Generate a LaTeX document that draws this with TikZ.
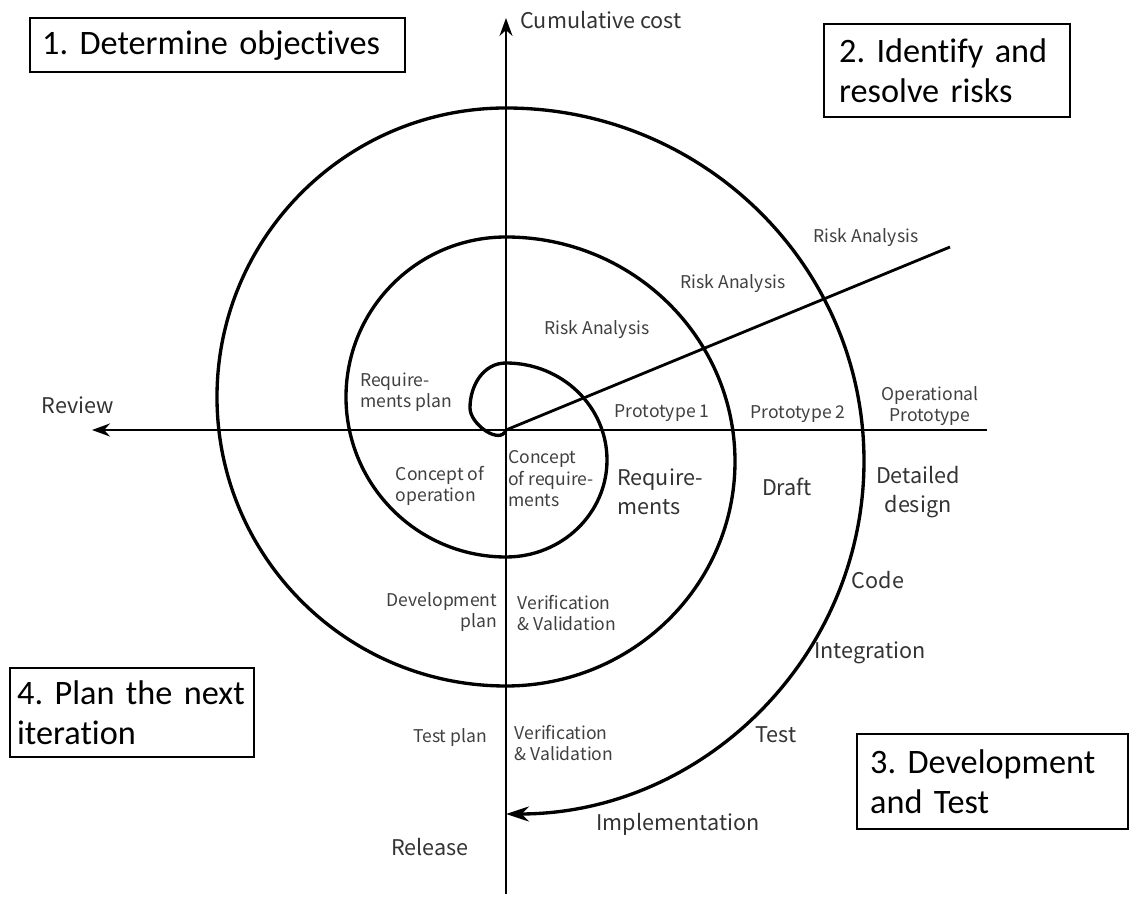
\documentclass[tikz,border=0pt]{standalone}
\usepackage{fontspec}
\setmainfont{Noto Sans CJK JP}
\newfontfamily\boxfont[Ligatures=NoCommon]{Carlito}
\usepackage{tikz}
\usetikzlibrary{arrows.meta}
\frenchspacing

\tikzset{
  axis/.style={line width=1.1pt,-{Stealth[length=0.36cm,width=0.26cm]}},
  spiral/.style={line width=1.9pt},
  small/.style={font=\fontsize{10}{12.2}\selectfont,text=black!75,inner sep=0pt},
  big/.style={font=\fontsize{12.3}{16.2}\selectfont,text=black!80,inner sep=0pt},
  phasebox/.style={draw,line width=1.3pt,anchor=north west,align=left,
    font=\boxfont\fontsize{19.5}{22.5}\selectfont}
}

\begin{document}
\begin{tikzpicture}[x=0.02cm,y=0.02cm]
\useasboundingbox (-506,-478) rectangle (633,430);
\coordinate (O) at (0,0);
\coordinate (R) at (444,183);
\coordinate (ax1) at (481,0);
\coordinate (ax2) at (-414,0);
\coordinate (ay1) at (0,-464);
\coordinate (ay2) at (0,412);
% axes
\draw[axis] (ax1) -- (ax2);
\draw[axis] (ay1) -- (ay2);
\draw[line width=1.6pt] (O) -- (R);
% spiral
\draw[spiral,-{Stealth[length=0.46cm,width=0.3cm]}] (O) to[out=-110,in=-90] (-36,22) to[out=90,in=180] (0,67)
  arc[start angle=90,end angle=-90,x radius=101,y radius=97]
  arc[start angle=270,end angle=90,radius=160]
  arc[start angle=90,end angle=-90,x radius=229,y radius=224.5]
  arc[start angle=270,end angle=90,radius=289]
  arc[start angle=90,end angle=-90,x radius=358,y radius=353];
% phase boxes
\node[phasebox,inner xsep=0.24cm,text width=7.02cm,minimum height=1.08cm] (p1) at (-477,413) {1. Determine objectives};
\node[phasebox,inner xsep=0.3cm,text width=4.32cm,minimum height=1.86cm] (p2) at (317,407) {2. Identify and\\resolve risks};
\node[phasebox,inner xsep=0.26cm,text width=4.9cm,minimum height=1.90cm] (p3) at (350,-303) {3. Development\\and Test};
\node[phasebox,inner xsep=0.14cm,text width=4.6cm,minimum height=1.78cm] (p4) at (-497,-237) {4. Plan the next\\iteration};
% axis labels
\node[big,anchor=west] (cost) at (14,410) {Cumulative cost};
\node[big] (review) at (-428,25) {Review};
% labels above the axis
\node[small] (ra1) at (91,100) {Risk Analysis};
\node[small] (ra2) at (227,146) {Risk Analysis};
\node[small] (ra3) at (360,192) {Risk Analysis};
\node[small] (proto1) at (156,17) {Prototype 1};
\node[small] (proto2) at (292,16) {Prototype 2};
\node[small,align=center] (opproto) at (424,24) {Operational\\Prototype};
\node[small,align=left] (reqplan) at (-100,38) {Require-\\ments plan};
% labels below the axis
\node[small,align=left] (conop) at (-66,-56) {Concept of\\operation};
\node[small,align=left] (conreq) at (45,-49) {Concept\\of require-\\ments};
\node[big,align=left] (reqs) at (154,-62) {Require-\\ments};
\node[big] (draft) at (281,-57) {Draft};
\node[big,align=center] (detdesign) at (412,-62) {Detailed\\design};
\node[big] (code) at (372,-150) {Code};
\node[big] (integ) at (364,-223) {Integration};
\node[big] (test) at (270,-305) {Test};
\node[big] (impl) at (172,-394) {Implementation};
\node[small,align=left] (vv1) at (61,-183) {Verification\\\& Validation};
\node[small,align=left] (vv2) at (58,-313) {Verification\\\& Validation};
\node[small,align=right] (devplan) at (-64,-182) {Development\\plan};
\node[small] (testplan) at (-56,-308) {Test plan};
\node[big] (release) at (-76,-417) {Release};
\end{tikzpicture}
\end{document}
